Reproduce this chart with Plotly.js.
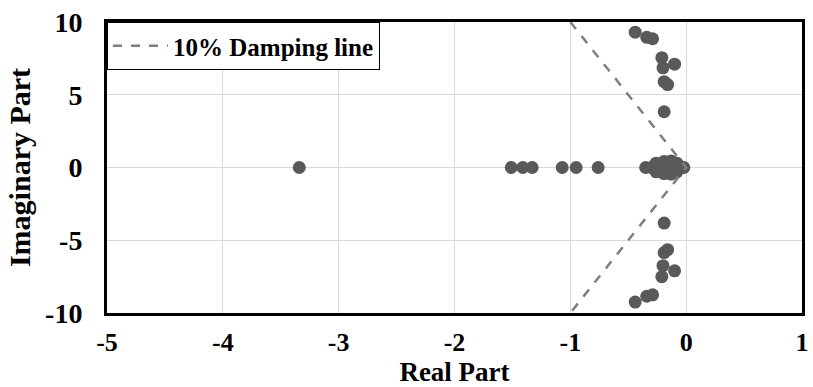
<!DOCTYPE html>
<html>
<head>
<meta charset="utf-8">
<script src="https://cdn.plot.ly/plotly-3.0.1.min.js"></script>
<style>html,body{margin:0;padding:0;background:#fff;}#chart{width:813px;height:387px;}</style>
</head>
<body>
<div id="chart"></div>
<script>
// Eigenvalues (poles): real and imaginary parts
const realPart = [
  -3.34, -1.51, -1.41, -1.33, -1.07, -0.95, -0.76,
  -0.35, -0.30, -0.25, -0.21, -0.17, -0.13, -0.09, -0.05, -0.02,
  -0.26, -0.26, -0.19, -0.19, -0.13, -0.13, -0.08, -0.08, -0.22, -0.22,
  -0.44, -0.44, -0.34, -0.34, -0.29, -0.29, -0.21, -0.21, -0.10, -0.10,
  -0.20, -0.20, -0.19, -0.19, -0.16, -0.16, -0.19, -0.19
];
const imagPart = [
  0, 0, 0, 0, 0, 0, 0,
  0, 0, 0, 0, 0, 0, 0, 0, 0,
  0.3, -0.3, 0.42, -0.42, 0.45, -0.45, 0.3, -0.3, 0.15, -0.15,
  9.3, -9.25, 8.95, -8.85, 8.85, -8.75, 7.55, -7.5, 7.1, -7.1,
  6.85, -6.75, 5.9, -5.85, 5.7, -5.65, 3.83, -3.82
];
// 10% damping line
const dampX = [-1, 0, -1];
const dampY = [10, 0, -10];
const dampName = '10% Damping line';
const xTicks = [-5, -4, -3, -2, -1, 0, 1];
const yTicks = [-10, -5, 0, 5, 10];

const font = 'Liberation Serif, Times New Roman, serif';

const traces = [
  {
    x: realPart, y: imagPart, type: 'scatter', mode: 'markers',
    marker: {color: '#595959', size: 13},
    showlegend: false, name: 'Eigenvalues'
  },
  {
    x: dampX, y: dampY, type: 'scatter', mode: 'lines',
    line: {color: '#7f7f7f', dash: 'dash', width: 2.5},
    name: dampName, showlegend: true
  }
];

const layout = {
  width: 813, height: 387,
  margin: {l: 107, r: 11, t: 22, b: 74},
  paper_bgcolor: '#fff', plot_bgcolor: '#fff',
  font: {family: font, color: '#000', size: 24},
  showlegend: true,
  legend: {
    x: 0, y: 1, xanchor: 'left', yanchor: 'top',
    bgcolor: '#fff', bordercolor: '#000', borderwidth: 1,
    font: {family: font, size: 25, color: '#000', weight: 'bold'},
    itemwidth: 55
  },
  xaxis: {
    range: [-5, 1], tickvals: xTicks, ticktext: xTicks.map(String),
    showgrid: true, gridcolor: '#d9d9d9', gridwidth: 1,
    zeroline: false, showline: true, linecolor: '#000', linewidth: 3, mirror: true,
    ticks: '', ticklabelstandoff: 4,
    tickfont: {family: font, size: 26, color: '#000', weight: 'bold'},
    title: {text: 'Real Part', font: {family: font, size: 27, color: '#000', weight: 'bold'}, standoff: 2},
    fixedrange: true
  },
  yaxis: {
    range: [-10, 10], tickvals: yTicks, ticktext: yTicks.map(String),
    showgrid: true, gridcolor: '#d9d9d9', gridwidth: 1,
    zeroline: false, showline: true, linecolor: '#000', linewidth: 3, mirror: true,
    ticks: '', ticklabelstandoff: 16,
    tickfont: {family: font, size: 28, color: '#000', weight: 'bold'},
    title: {text: 'Imaginary Part', font: {family: font, size: 30, color: '#000', weight: 'bold'}, standoff: 6},
    fixedrange: true
  }
};

Plotly.newPlot('chart', traces, layout, {displayModeBar: false, staticPlot: true});
</script>
</body>
</html>
